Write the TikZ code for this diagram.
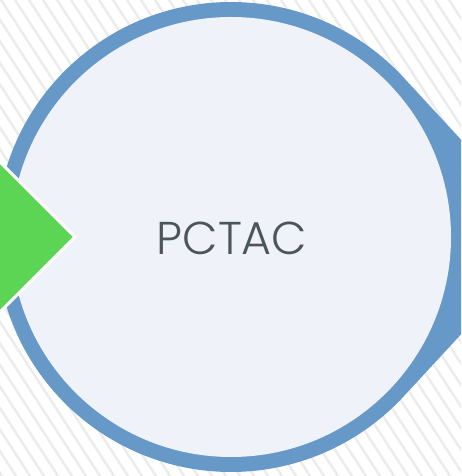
\documentclass[tikz,border=0pt]{standalone}
\usepackage{fontspec}
\setmainfont{Poppins}[UprightFont=* Light]
\usetikzlibrary{positioning}

\definecolor{ringblue}{HTML}{6699C8}
\definecolor{paleblue}{HTML}{EFF3F9}
\definecolor{leafgreen}{HTML}{5CD454}
\definecolor{textgray}{HTML}{4B555A}
\definecolor{stripegray}{HTML}{ECECEC}

\begin{document}
\begin{tikzpicture}[
  x=1pt, y=1pt,
  stripe/.style={draw=stripegray, line width=2.5pt},
  ring/.style={fill=ringblue},
  disc/.style={circle, fill=paleblue, minimum size=440pt, inner sep=0pt},
  pointer/.style={fill=leafgreen, draw=white, line width=3pt, line join=miter},
  label/.style={text=textgray, font=\fontsize{46}{46}\selectfont}]

  \useasboundingbox (0,0) rectangle (461,476);
  \clip (0,0) rectangle (461,476);

  % striped backdrop
  \foreach \x in {-330,-316,...,470}
    \draw[stripe] (\x,490) -- ++(318,-490);

  % outer ring with its point
  \coordinate (centre) at (231,239);
  \coordinate (tip) at (551,239);
  \path[ring] (tip) -- ([shift={(42.8:235pt)}]centre)
    arc[start angle=42.8, end angle=317.2, radius=235pt] -- cycle;

  % inner disc with the name
  \node[disc] (core) at (centre) {};
  \node[label] (name) at (232,238) {PCTAC};

  % green marker on the left
  \coordinate (marker) at (75,239);
  \path[pointer] (marker) -- ++(-90,90) -- ++(0,-180) -- cycle;
\end{tikzpicture}
\end{document}
